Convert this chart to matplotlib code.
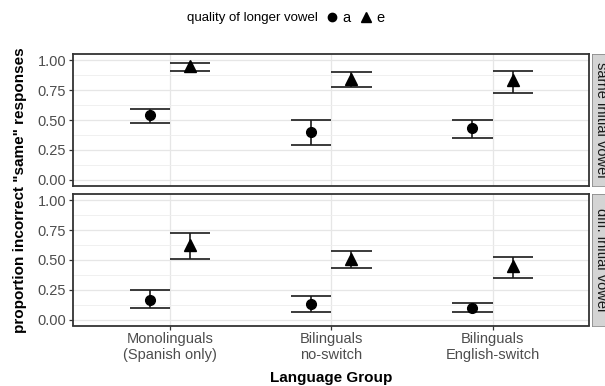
import matplotlib.pyplot as plt
import numpy as np
from matplotlib.lines import Line2D

plt.rcParams['font.family'] = ['Liberation Sans', 'DejaVu Sans']

groups = ['Monolinguals\n(Spanish only)', 'Bilinguals\nno-switch', 'Bilinguals\nEnglish-switch']
vowels = ['a', 'e']
facets = ['same initial vowel', 'diff. initial vowel']

# mean, lower, upper per facet -> vowel -> group
mean = {
    'same initial vowel': {'a': [0.54, 0.40, 0.43], 'e': [0.95, 0.84, 0.83]},
    'diff. initial vowel': {'a': [0.16, 0.13, 0.10], 'e': [0.625, 0.505, 0.445]},
}
lower = {
    'same initial vowel': {'a': [0.475, 0.295, 0.352], 'e': [0.908, 0.778, 0.725]},
    'diff. initial vowel': {'a': [0.097, 0.067, 0.063], 'e': [0.508, 0.43, 0.347]},
}
upper = {
    'same initial vowel': {'a': [0.59, 0.50, 0.502], 'e': [0.975, 0.897, 0.905]},
    'diff. initial vowel': {'a': [0.244, 0.197, 0.142], 'e': [0.725, 0.572, 0.522]},
}

markers = {'a': 'o', 'e': '^'}
msize = {'a': 7, 'e': 8}
offset = {'a': -0.125, 'e': 0.125}
capw = 0.125
ink = '#1a1a1a'

fig = plt.figure(figsize=(6.05, 3.86), dpi=100)
W, H = 605, 386

def frac(l, t, r, b):
    return [l / W, 1 - b / H, (r - l) / W, (b - t) / H]

panel_px = [(73.3, 54, 589.3, 186), (73.3, 194.3, 589.3, 325.5)]
x = np.arange(1, len(groups) + 1)

for i, (facet, (l, t, r, b)) in enumerate(zip(facets, panel_px)):
    ax = fig.add_axes(frac(l, t, r, b))
    ax.set_xlim(0.4, 3.6)
    ax.set_ylim(-0.05, 1.05)
    ax.set_yticks([0, 0.25, 0.5, 0.75, 1.0])
    ax.set_yticklabels(['0.00', '0.25', '0.50', '0.75', '1.00'])
    ax.set_yticks([0.125, 0.375, 0.625, 0.875], minor=True)
    ax.set_xticks(x)
    ax.grid(True, which='major', color='#e6e6e6', lw=0.9)
    ax.grid(True, which='minor', axis='y', color='#eeeeee', lw=0.6)
    ax.set_axisbelow(True)
    for s in ax.spines.values():
        s.set_color('#333333')
        s.set_linewidth(1.3)
    ax.tick_params(axis='both', which='major', length=3, width=0.9, color='#333333',
                   labelsize=10.5, labelcolor='#4d4d4d', pad=2)
    ax.tick_params(axis='y', which='minor', length=0)
    if i == 0:
        ax.tick_params(axis='x', length=0, labelbottom=False)
    else:
        ax.set_xticklabels(groups, fontsize=10.5, color='#4d4d4d', linespacing=1.15)

    for v in vowels:
        xs = x + offset[v]
        lo = np.array(lower[facet][v])
        hi = np.array(upper[facet][v])
        ax.vlines(xs, lo, hi, color=ink, lw=1.2, zorder=3)
        ax.hlines(lo, xs - capw, xs + capw, color=ink, lw=1.2, zorder=3)
        ax.hlines(hi, xs - capw, xs + capw, color=ink, lw=1.2, zorder=3)
        ax.plot(xs, mean[facet][v], ls='none', marker=markers[v], ms=msize[v],
                color='black', zorder=4)

    # facet strip on the right
    sax = fig.add_axes(frac(r + 2.5, t, r + 20, b))
    sax.set_facecolor('#d4d4d4')
    sax.set_xticks([])
    sax.set_yticks([])
    for s in sax.spines.values():
        s.set_color('#8a8a8a')
        s.set_linewidth(0.6)
    sax.text(0.5, 0.5, facet, rotation=-90, ha='center', va='center',
             fontsize=10.5, color='#1a1a1a', transform=sax.transAxes)

fig.text(20 / W, 1 - 190 / H, 'proportion incorrect "same" responses', rotation=90,
         ha='center', va='center', fontsize=11, fontweight='bold', color='black')
fig.text(331.5 / W, 1 - 378 / H, 'Language Group', ha='center', va='center',
         fontsize=11, fontweight='bold', color='black')

# legend along the top
fig.text(252 / W, 1 - 18 / H, 'quality of longer vowel', ha='center', va='center',
         fontsize=9.5, color='black')
handles = [Line2D([], [], ls='none', marker=markers[v], ms=msize[v] - 1, color='black')
           for v in vowels]
fig.legend(handles, vowels, ncol=2, loc='center', bbox_to_anchor=(354 / W, 1 - 18 / H),
           frameon=False, fontsize=10.5, handletextpad=0.1, columnspacing=0.5,
           handlelength=1.2)

fig.savefig('out.png', dpi=100)
